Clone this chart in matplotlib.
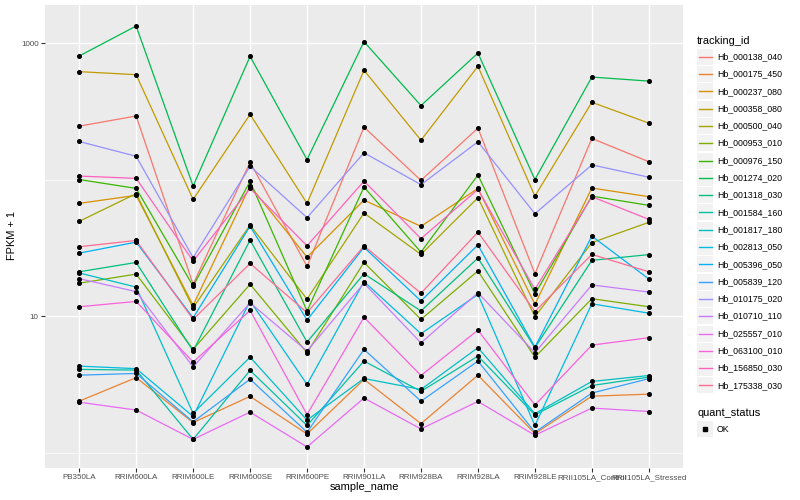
import numpy as np
import matplotlib
matplotlib.use("Agg")
import matplotlib.pyplot as plt
from matplotlib.lines import Line2D
from matplotlib.patches import Rectangle
from matplotlib.ticker import NullFormatter

plt.rcParams['font.family'] = ['Liberation Sans', 'DejaVu Sans']

samples = ["PB350LA", "RRIM600LA", "RRIM600LE", "RRIM600SE", "RRIM600PE", "RRIM901LA",
           "RRIM928BA", "RRIM928LA", "RRIM928LE", "RRII105LA_Control", "RRII105LA_Stressed"]

# FPKM + 1 for each sample
hb_000138_040 = [246, 292, 17.1, 134, 23.1, 242, 98.6, 238, 20.4, 200, 135]
hb_000175_450 = [2.38, 3.54, 1.66, 2.58, 1.37, 3.44, 1.63, 3.69, 1.38, 2.59, 2.68]
hb_000237_080 = [66.9, 76.6, 12.0, 89.9, 27.0, 70.7, 45.4, 86.1, 12.2, 86.6, 74.9]
hb_000358_080 = [617, 586, 71.5, 300, 66.9, 631, 194, 675, 75.6, 368, 259]
hb_000500_040 = [49.4, 78.8, 11.5, 46.4, 13.3, 56.8, 28.3, 73.6, 9.9, 34.5, 48.6]
hb_000953_010 = [17.4, 20.3, 5.70, 17.1, 5.39, 24.7, 9.45, 21.4, 5.0, 13.4, 11.7]
hb_000976_150 = [100, 86.1, 16.6, 96.9, 10.9, 88.1, 29.4, 108, 14.5, 75.6, 64.7]
hb_001274_020 = [803, 1331, 89.6, 798, 140, 1023, 348, 844, 100, 563, 526]
hb_001318_030 = [21.1, 24.7, 5.56, 36.0, 6.45, 20.4, 10.9, 26.6, 5.87, 25.6, 28.2]
hb_001584_160 = [4.07, 4.02, 1.25, 4.0, 1.58, 4.68, 2.81, 5.09, 1.89, 3.1, 3.57]
hb_001817_180 = [20.7, 16.3, 1.94, 5.0, 1.73, 3.49, 2.90, 5.87, 1.93, 3.32, 3.67]
hb_002813_050 = [4.30, 4.12, 1.84, 12.9, 3.16, 17.9, 7.43, 14.4, 1.58, 12.3, 10.5]
hb_005396_050 = [28.9, 34.8, 9.7, 45.6, 9.34, 31.9, 12.9, 33.2, 5.92, 38.5, 18.7]
hb_005839_120 = [3.69, 3.80, 1.68, 3.45, 1.41, 5.70, 2.38, 4.68, 1.41, 2.73, 3.48]
hb_010175_020 = [190, 148, 26.8, 125, 52.6, 157, 91.7, 189, 56.2, 128, 104]
hb_010710_110 = [18.8, 15.1, 4.24, 12.5, 5.54, 17.4, 6.36, 14.8, 5.39, 16.9, 15.0]
hb_025557_010 = [2.34, 2.05, 1.25, 1.98, 1.10, 2.51, 1.49, 2.37, 1.34, 2.12, 2.0]
hb_063100_010 = [11.7, 12.8, 4.60, 11.0, 1.90, 9.8, 3.67, 7.89, 2.23, 6.13, 6.94]
hb_156850_030 = [106, 102, 25.3, 86.1, 32.7, 97.4, 36.9, 84.7, 15.7, 74.9, 51.1]
hb_175338_030 = [32.2, 35.8, 9.45, 24.3, 10.6, 32.6, 14.7, 41.2, 10.8, 28.3, 21.1]

tracking_ids = ["Hb_000138_040", "Hb_000175_450", "Hb_000237_080", "Hb_000358_080",
                "Hb_000500_040", "Hb_000953_010", "Hb_000976_150", "Hb_001274_020",
                "Hb_001318_030", "Hb_001584_160", "Hb_001817_180", "Hb_002813_050",
                "Hb_005396_050", "Hb_005839_120", "Hb_010175_020", "Hb_010710_110",
                "Hb_025557_010", "Hb_063100_010", "Hb_156850_030", "Hb_175338_030"]
series = [hb_000138_040, hb_000175_450, hb_000237_080, hb_000358_080, hb_000500_040,
          hb_000953_010, hb_000976_150, hb_001274_020, hb_001318_030, hb_001584_160,
          hb_001817_180, hb_002813_050, hb_005396_050, hb_005839_120, hb_010175_020,
          hb_010710_110, hb_025557_010, hb_063100_010, hb_156850_030, hb_175338_030]

# ggplot hue palette for 20 levels
colors = ["#F8766D", "#EA8331", "#D89000", "#C09B00", "#A3A500", "#7CAE00", "#39B600",
          "#00BB4E", "#00BF7D", "#00C1A3", "#00BFC4", "#00BAE0", "#00B0F6", "#35A2FF",
          "#9590FF", "#C77CFF", "#E76BF3", "#FA62DB", "#FF62BC", "#FF6C91"]

W, H = 800, 500
fig = plt.figure(figsize=(W / 100, H / 100), dpi=100)
ax = fig.add_axes([45 / W, 1 - 468 / H, 638 / W, 463 / H])
ax.set_facecolor('#EBEBEB')
for s in ax.spines.values():
    s.set_visible(False)

x = np.arange(len(samples))
for vals, c in zip(series, colors):
    ax.plot(x, vals, color=c, lw=0.9, zorder=2)
for vals in series:
    ax.plot(x, vals, 'o', color='black', ms=2.6, zorder=3)

ax.set_yscale('log')
lo = np.log10(min(min(v) for v in series))
hi = np.log10(max(max(v) for v in series))
pad = 0.05 * (hi - lo)
ax.set_ylim(10 ** (lo - pad), 10 ** (hi + pad))
ax.set_xlim(-0.6, len(samples) - 0.4)

ax.set_yticks([10, 1000])
ax.set_yticklabels(['10', '1000'])
ax.set_yticks([1, 100], minor=True)
ax.yaxis.set_minor_formatter(NullFormatter())
ax.set_xticks(x)
ax.set_xticklabels(samples)

ax.grid(which='major', color='white', lw=1.0, zorder=0)
ax.grid(which='minor', axis='y', color='white', lw=0.5, zorder=0)
ax.set_axisbelow(True)
ax.tick_params(axis='both', which='major', length=3, width=0.8, color='#333333',
               labelsize=5.8, labelcolor='#4D4D4D', pad=1.5)
ax.tick_params(axis='both', which='minor', length=0)

fig.text(364 / W, 1 - 487 / H, 'sample_name', fontsize=7.9, ha='center', va='center')
fig.text(12 / W, 1 - 236 / H, 'FPKM + 1', fontsize=7.9, ha='center', va='center',
         rotation=90)

# legend: tracking_id
def fx(px):
    return px / W

def fy(py):
    return 1 - py / H

fig.text(fx(697), fy(40.7), 'tracking_id', fontsize=7.9, ha='left', va='center')
for i, (tid, c) in enumerate(zip(tracking_ids, colors)):
    yc = 56.7 + 17.3 * i
    fig.patches.append(Rectangle((fx(697), fy(yc + 8)), 16 / W, 16 / H,
                                 transform=fig.transFigure, facecolor='#F2F2F2',
                                 edgecolor='none'))
    fig.lines.append(Line2D([fx(698.5), fx(711.5)], [fy(yc), fy(yc)],
                            transform=fig.transFigure, color=c, lw=1.0))
    fig.text(fx(717), fy(yc), tid, fontsize=6.3, ha='left', va='center')

# legend: quant_status
fig.text(fx(697), fy(412.7), 'quant_status', fontsize=7.9, ha='left', va='center')
fig.patches.append(Rectangle((fx(697), fy(429 + 8)), 16 / W, 16 / H,
                             transform=fig.transFigure, facecolor='#F2F2F2',
                             edgecolor='none'))
fig.lines.append(Line2D([fx(705)], [fy(429)], transform=fig.transFigure,
                        marker='s', color='black', ms=2.4, lw=0))
fig.text(fx(717), fy(429), 'OK', fontsize=6.3, ha='left', va='center')

fig.savefig('out.png', dpi=100)
